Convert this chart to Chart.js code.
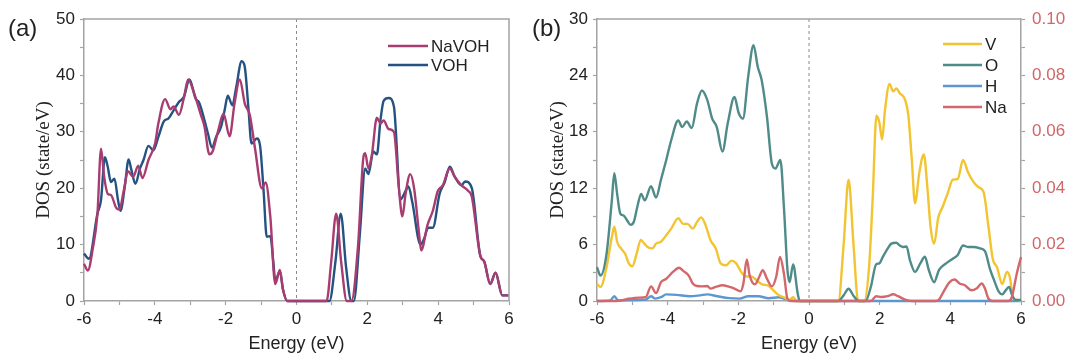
<!DOCTYPE html>
<html lang="en">
<head>
<meta charset="UTF-8">
<title>DOS NaVOH / VOH</title>
<script src="https://cdn.jsdelivr.net/npm/chart.js"></script>
<style>
  body { margin: 0; background: #fff; }
  .wrap { position: relative; width: 1065px; height: 355px; overflow: hidden; }
  #chartA { position: absolute; left: 0; top: 0; }
  #chartB { position: absolute; left: 530px; top: 0; }
</style>
</head>
<body>
<div class="wrap">
  <canvas id="chartA" width="530" height="355"></canvas>
  <canvas id="chartB" width="535" height="355"></canvas>
</div>
<script>
// ---- panel (a): total DOS ----
const navohE = [-6, -5.89, -5.76, -5.62, -5.52, -5.43, -5.33, -5.24, -5.09, -5.0, -4.88, -4.76, -4.61, -4.47, -4.35, -4.18, -3.99, -3.9, -3.71, -3.56, -3.47, -3.32, -3.18, -3.06, -2.9, -2.7, -2.6, -2.46, -2.37, -2.22, -2.06, -1.89, -1.75, -1.6, -1.46, -1.32, -1.17, -0.98, -0.87, -0.74, -0.6, -0.47, -0.38, -0.26, 0.85, 0.98, 1.12, 1.26, 1.42, 1.55, 1.74, 1.88, 1.94, 2.03, 2.13, 2.27, 2.37, 2.46, 2.6, 2.75, 2.89, 2.99, 3.08, 3.21, 3.32, 3.46, 3.52, 3.7, 3.85, 3.99, 4.13, 4.33, 4.47, 4.66, 4.85, 4.95, 5.19, 5.3, 5.47, 5.62, 5.81, 6];
const navohDos = [6.6, 5.4, 9, 15.5, 27, 22, 19, 18.8, 16.5, 16.2, 19.5, 23, 22, 24, 21.8, 25, 28, 31.5, 35.8, 34, 34.5, 33, 36, 39.3, 37, 33, 31, 26, 26.5, 30, 33.2, 29.2, 35, 39.3, 35, 33, 27, 20, 21, 15, 3, 5.5, 2, 0, 0, 7, 15.5, 7, 0, 0, 10, 25, 26.2, 23.5, 26, 32.5, 31.5, 32, 30.5, 30, 20, 15, 19, 22.5, 20, 12, 9, 13.5, 16, 19.5, 20.5, 23.5, 22, 20.5, 19.5, 18.5, 8, 7, 3, 5, 1, 1];

const vohE = [-6, -5.86, -5.62, -5.52, -5.41, -5.33, -5.24, -5.14, -5.04, -4.97, -4.85, -4.74, -4.66, -4.55, -4.42, -4.32, -4.18, -4.04, -3.9, -3.75, -3.61, -3.47, -3.32, -3.18, -3.02, -2.85, -2.75, -2.6, -2.5, -2.39, -2.27, -2.13, -2.03, -1.94, -1.81, -1.7, -1.55, -1.46, -1.36, -1.27, -1.12, -1.03, -0.93, -0.84, -0.74, -0.65, -0.6, -0.47, -0.38, -0.26, 0.93, 1.1, 1.25, 1.4, 1.55, 1.62, 1.79, 1.94, 2.03, 2.17, 2.27, 2.37, 2.46, 2.6, 2.75, 2.94, 3.04, 3.16, 3.27, 3.5, 3.6, 3.72, 3.85, 4.04, 4.18, 4.33, 4.47, 4.66, 4.76, 4.95, 5.19, 5.3, 5.47, 5.62, 5.81, 6];
const vohDos = [8.4, 7.5, 15.5, 17.9, 25.5, 23.8, 21.1, 21.7, 17.9, 16, 20.2, 25.1, 23.2, 20.8, 23.5, 25, 27.5, 26.7, 29.1, 31.8, 32.4, 33.8, 35.3, 36.2, 39.3, 35.9, 35.2, 32.1, 29.7, 27.2, 29.1, 30.9, 33.8, 36.4, 34.7, 38, 42.5, 41.5, 34.4, 27.9, 28.8, 27.6, 19.6, 11.4, 11.5, 6.6, 3.5, 5.3, 2, 0, 0, 7, 15.5, 6, 0, 0, 12, 23.5, 22.5, 26.5, 26, 32, 35.5, 36, 34.5, 18, 19, 20.3, 17.5, 10, 11, 13, 13, 19, 21, 23.8, 22, 20.5, 21.2, 20, 8, 7, 3, 5, 1, 1];

// ---- panel (b): partial DOS ----
const vE = [-6, -5.9, -5.73, -5.58, -5.51, -5.43, -5.3, -5.2, -5.1, -5.0, -4.88, -4.76, -4.66, -4.57, -4.43, -4.33, -4.19, -4.04, -3.9, -3.7, -3.56, -3.44, -3.29, -3.17, -3.05, -2.93, -2.79, -2.64, -2.5, -2.35, -2.19, -2.06, -1.92, -1.77, -1.63, -1.48, -1.34, -1.14, -1.0, -0.85, -0.71, -0.56, -0.45, -0.35, 0.83, 0.98, 1.12, 1.26, 1.39, 1.56, 1.7, 1.8, 1.91, 1.99, 2.07, 2.15, 2.28, 2.38, 2.47, 2.57, 2.72, 2.81, 2.91, 3.0, 3.12, 3.25, 3.35, 3.44, 3.54, 3.66, 3.78, 3.92, 4.07, 4.21, 4.36, 4.5, 4.65, 4.8, 4.94, 5.08, 5.2, 5.32, 5.47, 5.6, 5.68, 5.78, 5.9, 6];
const vDos = [1.8, 1.5, 3.6, 6.8, 7.9, 6.3, 5.5, 5, 4, 3.7, 5, 6.5, 6.1, 5.75, 5.6, 6.1, 6.3, 7, 7.7, 8.8, 8.2, 8.2, 7.7, 8.4, 8.9, 8.1, 6.5, 5.6, 4, 3.8, 4.3, 4, 3.1, 2.6, 2.6, 2.2, 1.8, 1.6, 1.1, 0.6, 0.4, 0.1, 0.4, 0, 0, 6, 12.9, 6, 0, 0, 3.6, 10.7, 19.7, 19, 17.2, 20.3, 23.1, 22.3, 22.6, 22.1, 21.4, 19.8, 15, 10.4, 13.6, 15.6, 12.1, 7.9, 6.1, 8.9, 10, 11.4, 12.9, 13, 15, 13.7, 12.7, 12.1, 11.6, 7.9, 4.5, 3.6, 1.8, 3.1, 2.6, 0.25, 0.1, 0];

const oE = [-6, -5.9, -5.73, -5.58, -5.51, -5.43, -5.34, -5.25, -5.15, -5.05, -4.96, -4.86, -4.75, -4.65, -4.47, -4.33, -4.19, -4.04, -3.9, -3.7, -3.59, -3.46, -3.32, -3.17, -3.03, -2.88, -2.74, -2.61, -2.45, -2.3, -2.11, -1.99, -1.87, -1.72, -1.57, -1.45, -1.34, -1.19, -1.05, -0.95, -0.81, -0.71, -0.61, -0.55, -0.45, -0.32, -0.26, 0.83, 0.98, 1.12, 1.27, 1.41, 1.6, 1.75, 1.9, 1.99, 2.09, 2.23, 2.33, 2.47, 2.57, 2.66, 2.76, 2.86, 3.0, 3.15, 3.28, 3.39, 3.54, 3.68, 3.88, 4.07, 4.21, 4.36, 4.5, 4.65, 4.84, 4.98, 5.13, 5.24, 5.37, 5.47, 5.56, 5.66, 5.75, 5.85, 6];
const oDos = [3.6, 2.7, 5, 10.7, 13.6, 11.4, 9.3, 9.1, 8.6, 8.1, 8.4, 10, 11.4, 10.7, 12.2, 11, 12.9, 15, 17.1, 19.2, 18.5, 19.1, 18.4, 21, 22.4, 21.4, 19.4, 18.5, 15.9, 18.9, 21.7, 20, 19.4, 23.9, 27.2, 24.9, 23.5, 19.6, 14.6, 14.1, 15, 10, 3.3, 2, 3.9, 0.8, 0, 0, 0.6, 1.3, 0.5, 0, 0, 1.5, 3.9, 4, 4.7, 5.6, 6.1, 6.2, 5.9, 5.75, 5.8, 4.3, 3.1, 4, 4.7, 3.3, 2, 3.3, 4, 4.5, 4.9, 5.9, 5.75, 5.75, 5.6, 5.3, 3.3, 2.2, 1, 0.7, 1.1, 1.5, 0.6, 0.1, 0.1];

const hE = [-6, -5.63, -5.51, -5.4, -5.0, -4.62, -4.47, -4.35, -4.19, -4.04, -3.75, -3.37, -3.08, -2.88, -2.59, -2.25, -1.96, -1.72, -1.43, -1.14, -0.85, -0.56, -0.4, 6];
const hDos = [0, 0.05, 0.5, 0.05, 0.1, 0.15, 0.5, 0.25, 0.4, 0.7, 0.65, 0.5, 0.6, 0.7, 0.5, 0.3, 0.25, 0.5, 0.5, 0.3, 0.4, 0.05, 0, 0];

// Na is read on the right axis
const naE = [-6, -5.58, -5.34, -5.1, -4.81, -4.62, -4.47, -4.33, -4.19, -4.04, -3.85, -3.68, -3.56, -3.41, -3.29, -3.17, -3.03, -2.88, -2.79, -2.64, -2.45, -2.25, -2.11, -1.94, -1.86, -1.76, -1.68, -1.53, -1.41, -1.31, -1.19, -1.05, -0.93, -0.82, -0.71, -0.61, -0.52, 1.75, 1.9, 2.04, 2.23, 2.38, 2.52, 2.72, 2.91, 3.59, 3.68, 3.83, 3.98, 4.12, 4.26, 4.41, 4.6, 4.74, 4.89, 4.98, 5.08, 5.2, 5.64, 5.74, 5.88, 6];
const naDos = [0, 0, 0.0002, 0.0008, 0.0012, 0.0014, 0.0052, 0.0028, 0.0067, 0.0079, 0.0103, 0.0118, 0.0107, 0.0091, 0.0062, 0.0053, 0.0052, 0.0053, 0.0044, 0.005, 0.0056, 0.005, 0.0044, 0.0034, 0.006, 0.0147, 0.0091, 0.0059, 0.0085, 0.0109, 0.0079, 0.0052, 0.0085, 0.0156, 0.0097, 0.0008, 0, 0, 0.0017, 0.0014, 0.0017, 0.0024, 0.0017, 0.0005, 0, 0, 0.0005, 0.0038, 0.0067, 0.0076, 0.0062, 0.0056, 0.0038, 0.0044, 0.0062, 0.0044, 0.0008, 0, 0, 0.0014, 0.0097, 0.0156];

const SANS = '"Liberation Sans", Arial, sans-serif';
const SERIF = '"Liberation Serif", "Times New Roman", serif';
const AXIS = '#a3a3a3';
const TEXT = '#222';

function pts(xs, ys) {
  return xs.map((x, i) => ({ x: x, y: ys[i] }));
}

function line(label, xs, ys, color, order, axis) {
  return {
    label: label,
    data: pts(xs, ys),
    borderColor: color,
    borderWidth: 2.4,
    pointRadius: 0,
    cubicInterpolationMode: 'monotone',
    order: order,
    yAxisID: axis || 'y',
    clip: 3
  };
}

function axisBase() {
  return {
    border: { color: AXIS, width: 1.5 },
    grid: { drawOnChartArea: false, color: AXIS, tickLength: 4, tickWidth: 1.2 },
  };
}

function xAxis() {
  return Object.assign(axisBase(), {
    type: 'linear', min: -6, max: 6,
    ticks: { stepSize: 1, autoSkip: false, maxRotation: 0, padding: 4, color: TEXT,
             font: { family: SANS, size: 17 }, callback: v => (v % 2 === 0 ? v : '') },
    title: { display: true, text: 'Energy (eV)', color: TEXT,
             font: { family: SANS, size: 18 }, padding: { top: 0, bottom: 0 } },
    afterFit: s => { s.height = 54; }
  });
}

function yAxis(max, step, every, width, titlePad) {
  return Object.assign(axisBase(), {
    position: 'left', min: 0, max: max,
    ticks: { stepSize: step, autoSkip: false, padding: 5, color: TEXT,
             font: { family: SANS, size: 17 }, callback: v => (v % every === 0 ? v : '') },
    title: { display: true, text: 'DOS (state/eV)', color: TEXT,
             font: { family: SERIF, size: 19 }, padding: { top: titlePad, bottom: 0 } },
    afterFit: s => { s.width = width; }
  });
}

// frame, Fermi level, panel letter and legend
const decor = {
  id: 'decor',
  beforeDatasetsDraw(chart) {
    const { ctx, chartArea: { top, bottom }, scales: { x } } = chart;
    const x0 = x.getPixelForValue(0);
    ctx.save();
    ctx.strokeStyle = '#8a8a8a';
    ctx.lineWidth = 1;
    ctx.setLineDash([3, 3]);
    ctx.beginPath();
    ctx.moveTo(x0, top);
    ctx.lineTo(x0, bottom);
    ctx.stroke();
    ctx.restore();
  },
  afterDraw(chart, args, opts) {
    const { ctx, chartArea: { left, right, top, bottom } } = chart;
    ctx.save();
    ctx.strokeStyle = AXIS;
    ctx.lineWidth = 1.5;
    ctx.beginPath();
    ctx.moveTo(left, top);
    ctx.lineTo(right, top);
    if (opts.rightBorder) ctx.lineTo(right, bottom);
    ctx.stroke();

    ctx.fillStyle = TEXT;
    ctx.textBaseline = 'middle';
    ctx.textAlign = 'left';
    ctx.font = '24px ' + SANS;
    ctx.fillText(opts.letter, opts.letterX, 29);

    const lg = opts.legend;
    ctx.font = '17px ' + SANS;
    lg.items.forEach((idx, i) => {
      const ds = chart.data.datasets[idx];
      const y = lg.y + i * lg.dy;
      ctx.strokeStyle = ds.borderColor;
      ctx.lineWidth = 2.4;
      ctx.beginPath();
      ctx.moveTo(lg.x1, y);
      ctx.lineTo(lg.x2, y);
      ctx.stroke();
      ctx.fillStyle = TEXT;
      ctx.fillText(ds.label, lg.x2 + 3, y + 1);
    });
    ctx.restore();
  }
};

new Chart(document.getElementById('chartA'), {
  type: 'line',
  data: {
    datasets: [
      line('NaVOH', navohE, navohDos, '#a83c70', 0),
      line('VOH', vohE, vohDos, '#245281', 1)
    ]
  },
  options: {
    responsive: false,
    animation: false,
    layout: { padding: { left: 0, top: 19, right: 21, bottom: 0 } },
    scales: { x: xAxis(), y: yAxis(50, 5, 10, 84, 33) },
    plugins: {
      legend: { display: false },
      tooltip: { enabled: false },
      decor: { rightBorder: true, letter: '(a)', letterX: 8,
               legend: { x1: 388, x2: 428, y: 46, dy: 19, items: [0, 1] } }
    }
  },
  plugins: [decor]
});

const y1 = Object.assign(axisBase(), {
  position: 'right', min: 0, max: 0.1,
  ticks: { stepSize: 0.01, autoSkip: false, padding: 7, color: '#d0676a',
           font: { family: SANS, size: 17 },
           callback: v => (Math.round(v * 100) % 2 === 0 ? v.toFixed(2) : '') },
  afterFit: s => { s.width = 44; }
});

new Chart(document.getElementById('chartB'), {
  type: 'line',
  data: {
    datasets: [
      line('V', vE, vDos, '#f2c431', 2),
      line('O', oE, oDos, '#4f8b89', 1),
      line('H', hE, hDos, '#5d97d2', 3),
      line('Na', naE, naDos, '#d4676b', 0, 'y1')
    ]
  },
  options: {
    responsive: false,
    animation: false,
    layout: { padding: { left: 0, top: 19, right: 0, bottom: 0 } },
    scales: { x: xAxis(), y: yAxis(30, 3, 6, 67, 17), y1: y1 },
    plugins: {
      legend: { display: false },
      tooltip: { enabled: false },
      decor: { rightBorder: false, letter: '(b)', letterX: 2,
               legend: { x1: 413, x2: 452, y: 44, dy: 21, items: [0, 1, 2, 3] } }
    }
  },
  plugins: [decor]
});
</script>
</body>
</html>
